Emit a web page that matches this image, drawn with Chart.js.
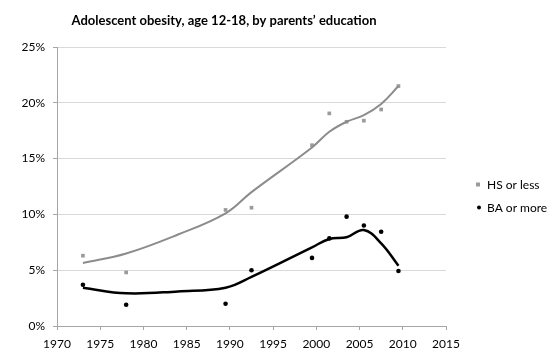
<!DOCTYPE html>
<html>
<head>
<meta charset="utf-8">
<script src="https://cdn.jsdelivr.net/npm/chart.js@4"></script>
<style>
html,body{margin:0;padding:0;background:#fff;}
#wrap{width:560px;height:357px;position:relative;}
</style>
</head>
<body>
<div id="wrap"><canvas id="c" width="560" height="357"></canvas></div>
<script>
const titleText = "Adolescent obesity, age 12-18, by parents\u2019 education";
const seriesNames = ["HS or less", "BA or more"];
const years = [1973, 1978, 1989.5, 1992.5, 1999.5, 2001.5, 2003.5, 2005.5, 2007.5, 2009.5];
const hsValues = [6.3, 4.8, 10.4, 10.6, 16.2, 19.05, 18.3, 18.4, 19.4, 21.5];
const baValues = [3.7, 1.9, 2.0, 5.0, 6.1, 7.85, 9.8, 9.0, 8.45, 4.93];
const curveYears = [1973, 1978, 1984, 1989.5, 1992.5, 1999.5, 2001.5, 2003.5, 2005.5, 2007.5, 2009.5];
const hsCurve = [5.65, 6.5, 8.2, 10.1, 12.0, 16.0, 17.4, 18.3, 18.9, 19.9, 21.5];
const baCurve = [3.43, 2.93, 3.1, 3.43, 4.4, 7.05, 7.8, 7.95, 8.6, 7.4, 5.4];
const xTicks = [1970, 1975, 1980, 1985, 1990, 1995, 2000, 2005, 2010, 2015];
const yTicks = [0, 5, 10, 15, 20, 25];

const FONT = "Lato, 'Open Sans', sans-serif";
const hsColor = '#9b9b9b';
const hsLine = '#8c8c8c';
const baColor = '#000000';

const pts = (xs, ys) => xs.map((x, i) => ({x: x, y: ys[i]}));

const titlePlugin = {
  id: 'customTitle',
  afterDraw(chart) {
    const ctx = chart.ctx;
    ctx.save();
    ctx.font = "bold 13px " + FONT;
    ctx.fillStyle = '#000';
    ctx.textAlign = 'center';
    ctx.textBaseline = 'middle';
    ctx.fillText(titleText, 224, 21);
    ctx.restore();
  }
};

const legendPlugin = {
  id: 'customLegend',
  afterDraw(chart) {
    const ctx = chart.ctx;
    ctx.save();
    ctx.font = "12px " + FONT;
    ctx.textBaseline = 'middle';
    ctx.textAlign = 'left';
    ctx.fillStyle = hsColor;
    ctx.fillRect(476, 182.5, 4, 4);
    ctx.fillStyle = '#000';
    ctx.fillText(seriesNames[0], 487, 185);
    ctx.beginPath();
    ctx.arc(479, 207.5, 2, 0, Math.PI * 2);
    ctx.fill();
    ctx.fillText(seriesNames[1], 487, 208);
    ctx.restore();
  }
};

new Chart(document.getElementById('c'), {
  type: 'scatter',
  data: {
    datasets: [
      {
        label: seriesNames[0] + ' trend',
        data: pts(curveYears, hsCurve),
        showLine: true,
        borderColor: hsLine,
        borderWidth: 2,
        pointRadius: 0,
        tension: 0.4,
        fill: false
      },
      {
        label: seriesNames[1] + ' trend',
        data: pts(curveYears, baCurve),
        showLine: true,
        borderColor: baColor,
        borderWidth: 2.5,
        pointRadius: 0,
        tension: 0.4,
        fill: false
      },
      {
        label: seriesNames[0],
        data: pts(years, hsValues),
        pointStyle: 'rect',
        pointRadius: 2.6,
        backgroundColor: hsColor,
        borderColor: hsColor,
        borderWidth: 0
      },
      {
        label: seriesNames[1],
        data: pts(years, baValues),
        pointStyle: 'circle',
        pointRadius: 2.3,
        backgroundColor: baColor,
        borderColor: baColor,
        borderWidth: 0
      }
    ]
  },
  options: {
    responsive: false,
    animation: false,
    devicePixelRatio: 1,
    layout: { padding: { top: 47, right: 114, left: 0, bottom: 0 } },
    plugins: {
      legend: { display: false },
      title: { display: false },
      tooltip: { enabled: false }
    },
    scales: {
      x: {
        type: 'linear',
        min: 1970,
        max: 2015,
        afterBuildTicks(scale) { scale.ticks = xTicks.map(v => ({value: v})); },
        afterFit(scale) { scale.height = 31; },
        ticks: {
          color: '#000',
          font: { family: FONT, size: 12 },
          padding: 7,
          maxRotation: 0,
          autoSkip: false,
          callback: v => String(v)
        },
        grid: {
          drawOnChartArea: false,
          drawTicks: true,
          tickLength: 4,
          color: '#a6a6a6'
        },
        border: { color: '#a6a6a6', width: 1 }
      },
      y: {
        min: 0,
        max: 25,
        afterBuildTicks(scale) { scale.ticks = yTicks.map(v => ({value: v})); },
        afterFit(scale) { scale.width = 57; },
        ticks: {
          color: '#000',
          font: { family: FONT, size: 12 },
          padding: 8,
          callback: v => v + '%'
        },
        grid: {
          color: '#d9d9d9',
          lineWidth: 1,
          tickLength: 4,
          tickColor: '#a6a6a6'
        },
        border: { color: '#a6a6a6', width: 1 }
      }
    }
  },
  plugins: [titlePlugin, legendPlugin]
});
</script>
</body>
</html>
